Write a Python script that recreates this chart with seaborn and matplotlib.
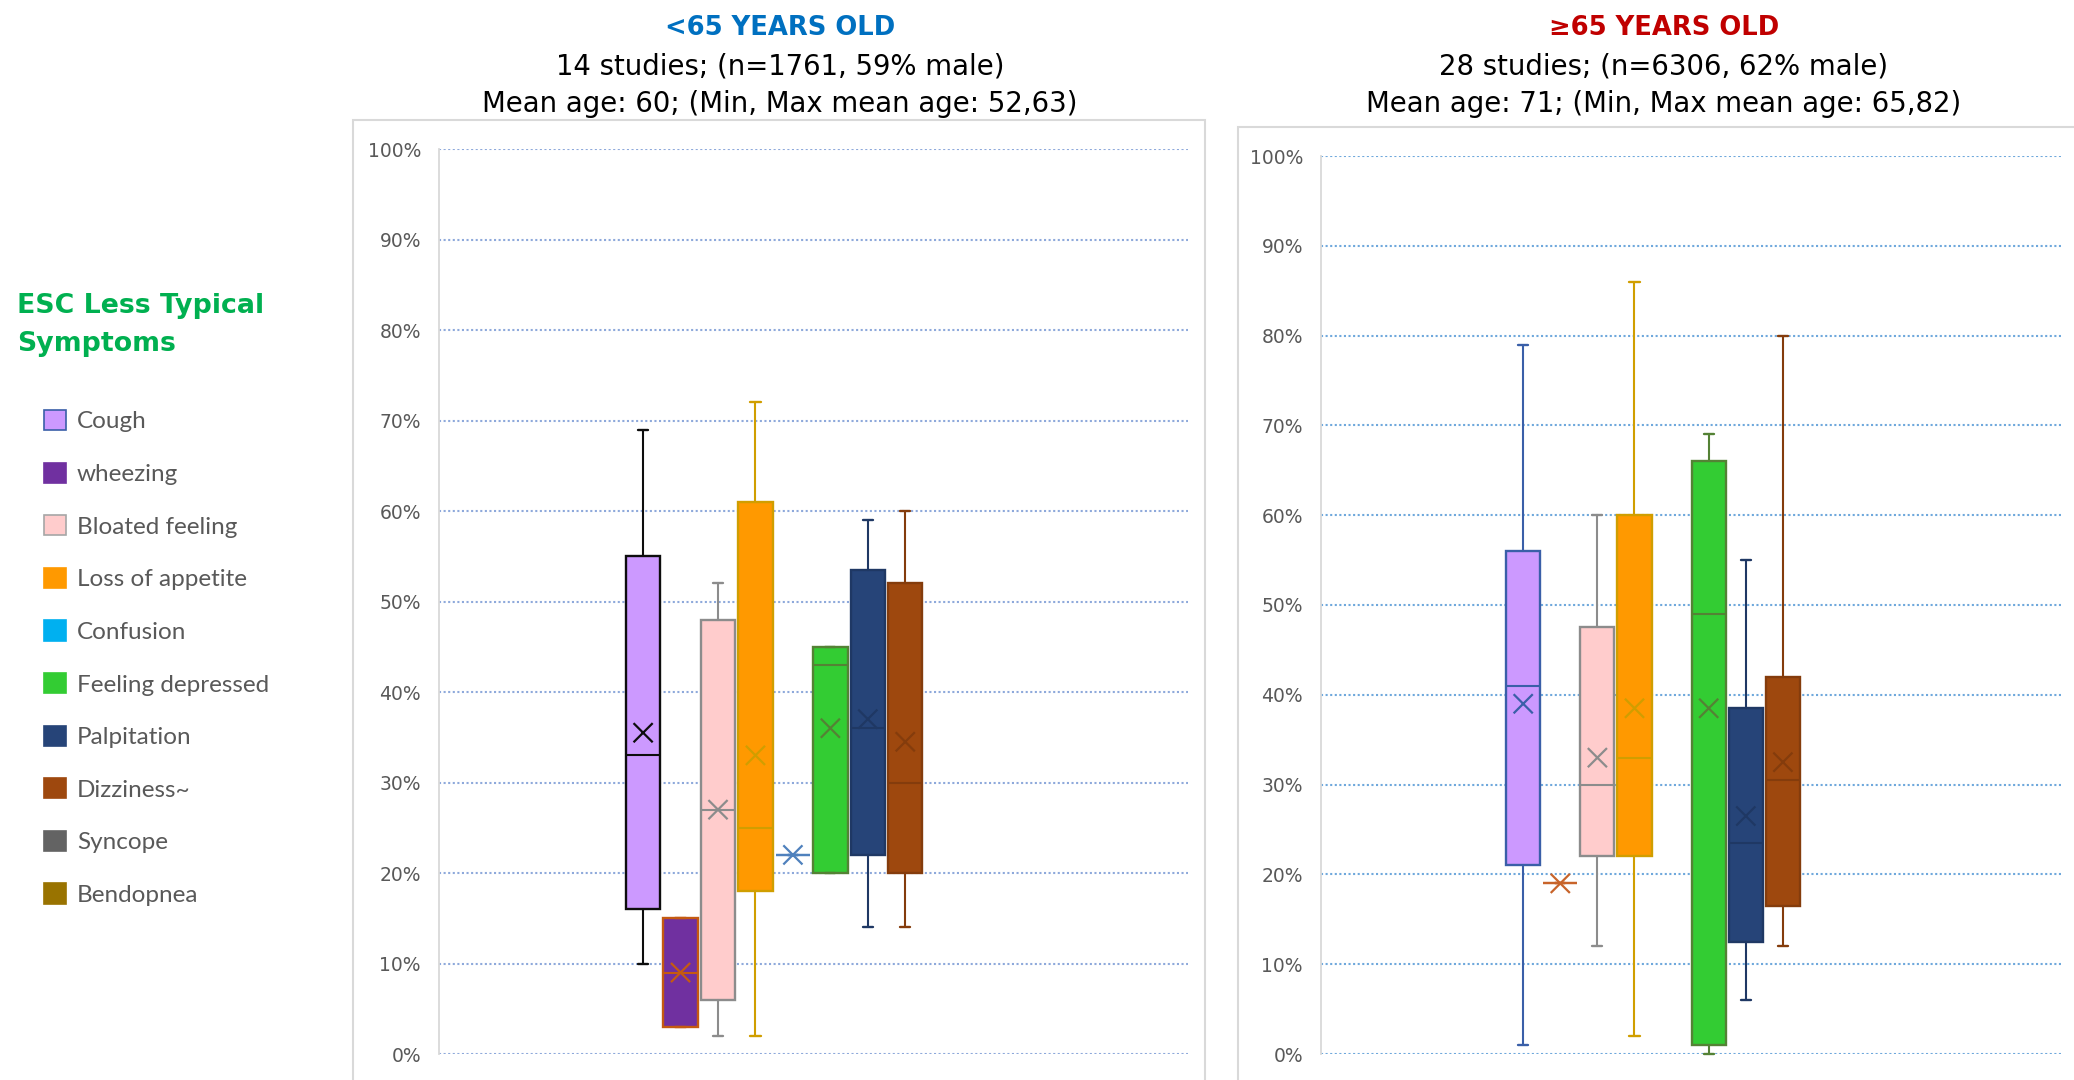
import matplotlib
matplotlib.use("Agg")
import matplotlib.pyplot as plt
from matplotlib.patches import Patch, Rectangle
from matplotlib.ticker import FuncFormatter
import numpy as np
import pandas as pd
import seaborn as sns

# ---- data ---------------------------------------------------------------
symptoms = ["Cough", "wheezing", "Bloated feeling", "Loss of appetite", "Confusion",
            "Feeling depressed", "Palpitation", "Dizziness~", "Syncope", "Bendopnea"]

# <65 years old (percent of patients)
young_whislo = [10, 3, 2, 2, 22, 20, 14, 14, None, None]
young_q1 = [16, 3, 6, 18, 22, 20, 22, 20, None, None]
young_med = [33, 9, 27, 25, 22, 43, 36, 30, None, None]
young_q3 = [55, 15, 48, 61, 22, 45, 53.5, 52, None, None]
young_whishi = [69, 15, 52, 72, 22, 45, 59, 60, None, None]
young_mean = [35.5, 9, 27, 33, 22, 36, 37, 34.5, None, None]

# >=65 years old (percent of patients)
old_whislo = [1, 19, 12, 2, None, 0, 6, 12, None, None]
old_q1 = [21, 19, 22, 22, None, 1, 12.5, 16.5, None, None]
old_med = [41, 19, 30, 33, None, 49, 23.5, 30.5, None, None]
old_q3 = [56, 19, 47.5, 60, None, 66, 38.5, 42, None, None]
old_whishi = [79, 19, 60, 86, None, 69, 55, 80, None, None]
old_mean = [39, 19, 33, 38.5, None, 38.5, 26.5, 32.5, None, None]

y_ticks = [0, 10, 20, 30, 40, 50, 60, 70, 80, 90, 100]

young_title = "<65 YEARS OLD"
young_sub = ["14 studies; (n=1761, 59% male)", "Mean age: 60; (Min, Max mean age: 52,63)"]
old_title = "\u226565 YEARS OLD"
old_sub = ["28 studies; (n=6306, 62% male)", "Mean age: 71; (Min, Max mean age: 65,82)"]
legend_title = "ESC Less Typical\nSymptoms"

# ---- styling ------------------------------------------------------------
fills = ["#CC99FF", "#7030A0", "#FFCCCC", "#FF9900", "#00B0F0",
         "#33CC33", "#264478", "#9E480E", "#636363", "#997300"]
legend_edges = ["#3A5FA8", "#7030A0", "#A6A6A6", "#FF9900", "#00B0F0",
                "#33CC33", "#264478", "#9E480E", "#636363", "#997300"]
young_edges = ["#0D0D0D", "#C55A11", "#8C8C8C", "#D09E00", "#4F81BD",
               "#548235", "#1F3864", "#843C0C", "#636363", "#997300"]
old_edges = ["#3A5FA8", "#C8642A", "#8C8C8C", "#D09E00", "#4F81BD",
             "#548235", "#1F3864", "#843C0C", "#636363", "#997300"]

sns.set_theme(style="white")
plt.rcParams["font.family"] = ["DejaVu Sans"]

W, H = 2074, 1080
fig = plt.figure(figsize=(W / 100, H / 100), dpi=100)


def draw_panel(ax, whislo, q1, med, q3, whishi, means, edges, grid_color):
    positions = np.arange(len(symptoms))
    for i, name in enumerate(symptoms):
        if med[i] is None:
            continue
        stats = [dict(label=name, whislo=whislo[i], q1=q1[i], med=med[i],
                      q3=q3[i], whishi=whishi[i], fliers=[])]
        arts = ax.bxp(stats, positions=[positions[i]], widths=0.92,
                      capwidths=0.27, patch_artist=True, showfliers=False,
                      boxprops=dict(facecolor=fills[i], edgecolor=edges[i], linewidth=1.7),
                      medianprops=dict(color=edges[i], linewidth=1.5),
                      whiskerprops=dict(color=edges[i], linewidth=1.5),
                      capprops=dict(color=edges[i], linewidth=1.7),
                      manage_ticks=False)
        for group in arts.values():
            for a in group:
                a.set_clip_on(False)
                a.set_zorder(3)
    df = pd.DataFrame({"pos": positions, "mean": means, "symptom": symptoms}).dropna()
    sns.scatterplot(data=df, x="pos", y="mean", hue="symptom",
                    palette=dict(zip(symptoms, edges)), marker="x", s=190,
                    linewidth=1.6, legend=False, ax=ax, zorder=5)
    ax.set_xlim(-5.45, 14.55)
    ax.set_ylim(0, 100)
    ax.set_yticks(y_ticks)
    ax.yaxis.set_major_formatter(FuncFormatter(lambda v, p: f"{v:.0f}%"))
    ax.set_xticks([])
    ax.set_xlabel("")
    ax.set_ylabel("")
    ax.tick_params(axis="y", length=0, pad=13, labelsize=13.5, labelcolor="#595959")
    ax.yaxis.grid(True, color=grid_color, linestyle=(0, (1, 1.2)), linewidth=1.5)
    ax.xaxis.grid(False)
    ax.set_axisbelow(True)
    for s in ["top", "right", "bottom"]:
        ax.spines[s].set_visible(False)
    ax.spines["left"].set_color("#D9D9D9")
    ax.spines["left"].set_linewidth(1.3)
    ax.patch.set_alpha(0)


# chart frames
fig.add_artist(Rectangle((353 / W, -0.1), (1205 - 353) / W, 0.1 + 1 - 120 / H,
                         transform=fig.transFigure, fill=False,
                         edgecolor="#D9D9D9", linewidth=1.5))
fig.add_artist(Rectangle((1238 / W, -0.1), (2090 - 1238) / W, 0.1 + 1 - 127 / H,
                         transform=fig.transFigure, fill=False,
                         edgecolor="#D9D9D9", linewidth=1.5))

ax1 = fig.add_axes([439 / W, 1 - 1054 / H, 749 / W, 905 / H])
draw_panel(ax1, young_whislo, young_q1, young_med, young_q3, young_whishi,
           young_mean, young_edges, "#8EA9DB")

ax2 = fig.add_axes([1321 / W, 1 - 1054 / H, 742 / W, 898 / H])
draw_panel(ax2, old_whislo, old_q1, old_med, old_q3, old_whishi,
           old_mean, old_edges, "#6FA8DC")

# panel headings
for cx, title, tcolor, sub in [(780, young_title, "#0070C0", young_sub),
                               (1664, old_title, "#C00000", old_sub)]:
    fig.text(cx / W, 1 - 28 / H, title, ha="center", va="center",
             fontsize=18.6, fontweight="bold", color=tcolor)
    fig.text(cx / W, 1 - 66 / H, sub[0], ha="center", va="center",
             fontsize=19.8, color="black")
    fig.text(cx / W, 1 - 104 / H, sub[1], ha="center", va="center",
             fontsize=19.8, color="black")

# legend
fig.text(17 / W, 1 - 325 / H, legend_title, ha="left", va="center",
         fontsize=19.3, fontweight="bold", color="#00B050", linespacing=1.56)
handles = [Patch(facecolor=f, edgecolor=e, linewidth=1.2)
           for f, e in zip(fills, legend_edges)]
fig.legend(handles, symptoms, loc="upper left", bbox_to_anchor=(44 / W, 1 - 410 / H),
           frameon=False, borderpad=0, borderaxespad=0, handlelength=0.9,
           handleheight=0.9, handletextpad=0.45, labelspacing=1.24,
           prop={"family": ["Lato", "DejaVu Sans"], "size": 17.5},
           labelcolor="#595959")

fig.savefig("out.png", dpi=100)
